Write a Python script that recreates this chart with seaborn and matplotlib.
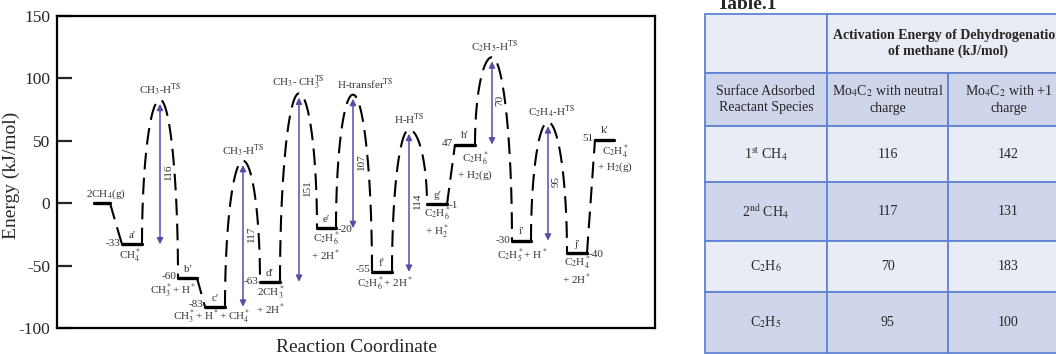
import numpy as np
import pandas as pd
import seaborn as sns
import matplotlib.pyplot as plt
from matplotlib.patches import Rectangle

sns.set_style("white")
plt.rcParams['font.family'] = ['Liberation Serif', 'DejaVu Serif']
plt.rcParams['mathtext.fontset'] = 'stix'
plt.rcParams['axes.unicode_minus'] = False

# ---- data: energy profile (kJ/mol) ----
state_names = ["2CH$_4$(g)", "a′", "b′", "c′", "d′", "e′", "f′", "g′", "h′", "i′", "j′", "k′"]
state_energy = [0, -33, -60, -83, -63, -20, -55, -1, 47, -30, -40, 51]
# barrier of each step (None = no transition state drawn)
step_barrier = [None, 116, None, 117, 151, 107, 114, None, 70, 95, None]
ts_names = ["CH$_3$-H$^{\\rm TS}$", "CH$_3$-H$^{\\rm TS}$", "CH$_3$- CH$_3^{\\rm TS}$",
            "H-transfer$^{\\rm TS}$", "H-H$^{\\rm TS}$", "C$_2$H$_5$-H$^{\\rm TS}$",
            "C$_2$H$_4$-H$^{\\rm TS}$"]
species = ["CH$_4^*$", "CH$_3^*$+ H$^*$", "CH$_3^*$+ H$^*$+ CH$_4^*$", "2CH$_3^*$\n+ 2H$^*$",
           "C$_2$H$_6^*$\n+ 2H$^*$", "C$_2$H$_6^*$+ 2H$^*$", "C$_2$H$_6^*$\n+ H$_2^*$",
           "C$_2$H$_6^*$\n+ H$_2$(g)", "C$_2$H$_5^*$+ H$^*$", "C$_2$H$_4^*$\n+ 2H$^*$",
           "C$_2$H$_4^*$\n+ H$_2$(g)"]

# ---- data: table ----
table_title = "Activation Energy of Dehydrogenation\nof methane (kJ/mol)"
table_cols = ["Surface Adsorbed\nReactant Species", "Mo$_4$C$_2$ with neutral\ncharge",
              "Mo$_4$C$_2$ with +1\ncharge"]
table_species = ["1$^{\\rm st}$ CH$_4$", "2$^{\\rm nd}$ CH$_4$", "C$_2$H$_6$", "C$_2$H$_5$"]
neutral_ea = [116, 117, 70, 95]
plus_one_ea = [142, 131, 183, 100]

# ---- layout (reaction coordinate, arbitrary units) ----
level_left = [94, 122, 178, 205, 260, 317, 372, 427, 455, 512, 567, 595]
level_right = [110, 142, 197, 225, 280, 336, 392, 447, 475, 531, 587, 614]
ts_x = [None, 160, None, 243, 299, 353, 409, None, 492, 548, None]
ts_label_dx = [0, 0, -1, 12, 0, 3, 4]
value_side = ['l', 'l', 'l', 'l', 'l', 'r', 'l', 'r', 'l', 'l', 'r', 'l']
value_dy = [0, 1, 1.5, 1.5, 0, -1, 1.5, -1, 1, 0, -1, 1]
species_pos = [(130, -42), (173, -70), (212, -91.5), (271, -78), (326, -35), (385, -65),
               (437, -16), (475, 30), (522, -42), (577, -54), (615, 36)]

fig = plt.figure(figsize=(10.56, 3.54), dpi=100)
ax = fig.add_axes([57 / 1056, 1 - 328 / 354, 598 / 1056, 312 / 354])

txt_col = '#333333'
arrow_col = '#5b4caa'
fs = 8

# energy levels
lev = pd.DataFrame({
    "state": list(range(len(state_energy))) * 2,
    "x": level_left + level_right,
    "energy": state_energy * 2,
})
sns.lineplot(data=lev, x="x", y="energy", units="state", estimator=None,
             color="black", linewidth=2.4, ax=ax, sort=False)

# dashed connectors through transition states
for i, barrier in enumerate(step_barrier):
    e0, e1 = state_energy[i], state_energy[i + 1]
    x0, x1 = level_right[i], level_left[i + 1]
    if barrier is None:
        xs, ys = [x0, x1], [e0, e1]
    else:
        xp, ets = ts_x[i], e0 + barrier
        t = np.linspace(0, np.pi / 2, 40)
        xl = xp - (xp - x0) * np.cos(t)
        yl = e0 + (ets - e0) * np.sin(t)
        t2 = np.linspace(np.pi / 2, 0, 40)
        xr = xp + (x1 - xp) * np.cos(t2)
        yr = e1 + (ets - e1) * np.sin(t2)
        xs, ys = np.r_[xl, xr], np.r_[yl, yr]
    ax.plot(xs, ys, color='black', lw=1.5, linestyle=(0, (8, 4)))

# barrier arrows and labels
k = 0
for i, barrier in enumerate(step_barrier):
    if barrier is None:
        continue
    xp, e0 = ts_x[i], state_energy[i]
    ets = e0 + barrier
    ax.annotate('', xy=(xp, e0), xytext=(xp, ets),
                arrowprops=dict(arrowstyle='<|-|>', color=arrow_col, lw=1.1,
                                shrinkA=3, shrinkB=0, mutation_scale=9))
    ax.text(xp + 8, e0 + barrier / 2, str(barrier), rotation=90, ha='center',
            va='center', fontsize=fs, color=txt_col)
    ax.text(xp + ts_label_dx[k], ets + 8, ts_names[k], ha='center', va='center',
            fontsize=fs, color=txt_col)
    k += 1

# state labels
for i, e in enumerate(state_energy):
    xc = (level_left[i] + level_right[i]) / 2
    if i == 0:
        ax.text(level_left[i] - 8, e + 7, state_names[i], ha='left', va='center',
                fontsize=fs, color=txt_col)
        continue
    ax.text(xc, e + 7, state_names[i], ha='center', va='center', fontsize=fs, color=txt_col)
    if value_side[i] == 'l':
        ax.text(level_left[i] - 2, e + value_dy[i], str(e), ha='right', va='center',
                fontsize=fs, color=txt_col)
    else:
        ax.text(level_right[i] + 2, e + value_dy[i], str(e), ha='left', va='center',
                fontsize=fs, color=txt_col)
    sx, sy = species_pos[i - 1]
    ax.text(sx, sy, species[i - 1], ha='center', va='center', fontsize=fs,
            color=txt_col, linespacing=1.0)

ax.set_xlim(57, 655)
ax.set_ylim(-100, 150)
ax.set_yticks([-100, -50, 0, 50, 100, 150])
ax.set_xticks([])
ax.tick_params(axis='y', direction='in', length=11, width=1.6, labelsize=12.5,
               left=True, pad=5)
for s in ax.spines.values():
    s.set_linewidth(1.6)
    s.set_color('black')
ax.set_xlabel("Reaction Coordinate", fontsize=14, labelpad=8)
ax.set_ylabel("Energy (kJ/mol)", fontsize=14)
ax.yaxis.set_label_coords(-0.062, 0.49)

# ---- table drawn in figure pixel space ----
tax = fig.add_axes([0, 0, 1, 1])
tax.set_xlim(0, 1056)
tax.set_ylim(354, 0)
tax.axis('off')

light, dark, edge = '#e9ebf5', '#cfd5ea', '#5f83d4'
col_x = [705, 827, 948, 1069]
row_y = [14, 73, 126, 182, 241, 292, 353]


def cell(x0, x1, y0, y1, color):
    tax.add_patch(Rectangle((x0, y0), x1 - x0, y1 - y0, facecolor=color,
                            edgecolor=edge, lw=1.3))


cell(col_x[0], col_x[1], row_y[0], row_y[1], light)
cell(col_x[1], col_x[3], row_y[0], row_y[1], light)
tax.text((col_x[1] + col_x[3]) / 2, (row_y[0] + row_y[1]) / 2, table_title,
         ha='center', va='center', fontsize=10, fontweight='bold', linespacing=1.3)
for j, lab in enumerate(table_cols):
    cell(col_x[j], col_x[j + 1], row_y[1], row_y[2], dark)
    tax.text((col_x[j] + col_x[j + 1]) / 2, (row_y[1] + row_y[2]) / 2, lab,
             ha='center', va='center', fontsize=10, linespacing=1.3)
for r, (sp, a, b) in enumerate(zip(table_species, neutral_ea, plus_one_ea)):
    y0, y1 = row_y[r + 2], row_y[r + 3]
    color = light if r % 2 == 0 else dark
    for j, val in enumerate([sp, str(a), str(b)]):
        cell(col_x[j], col_x[j + 1], y0, y1, color)
        tax.text((col_x[j] + col_x[j + 1]) / 2, (y0 + y1) / 2, val,
                 ha='center', va='center', fontsize=10)

tax.text(717, 9, "Table.1", ha='left', va='baseline', fontsize=14, fontweight='bold')

fig.savefig("out.png", dpi=100)
